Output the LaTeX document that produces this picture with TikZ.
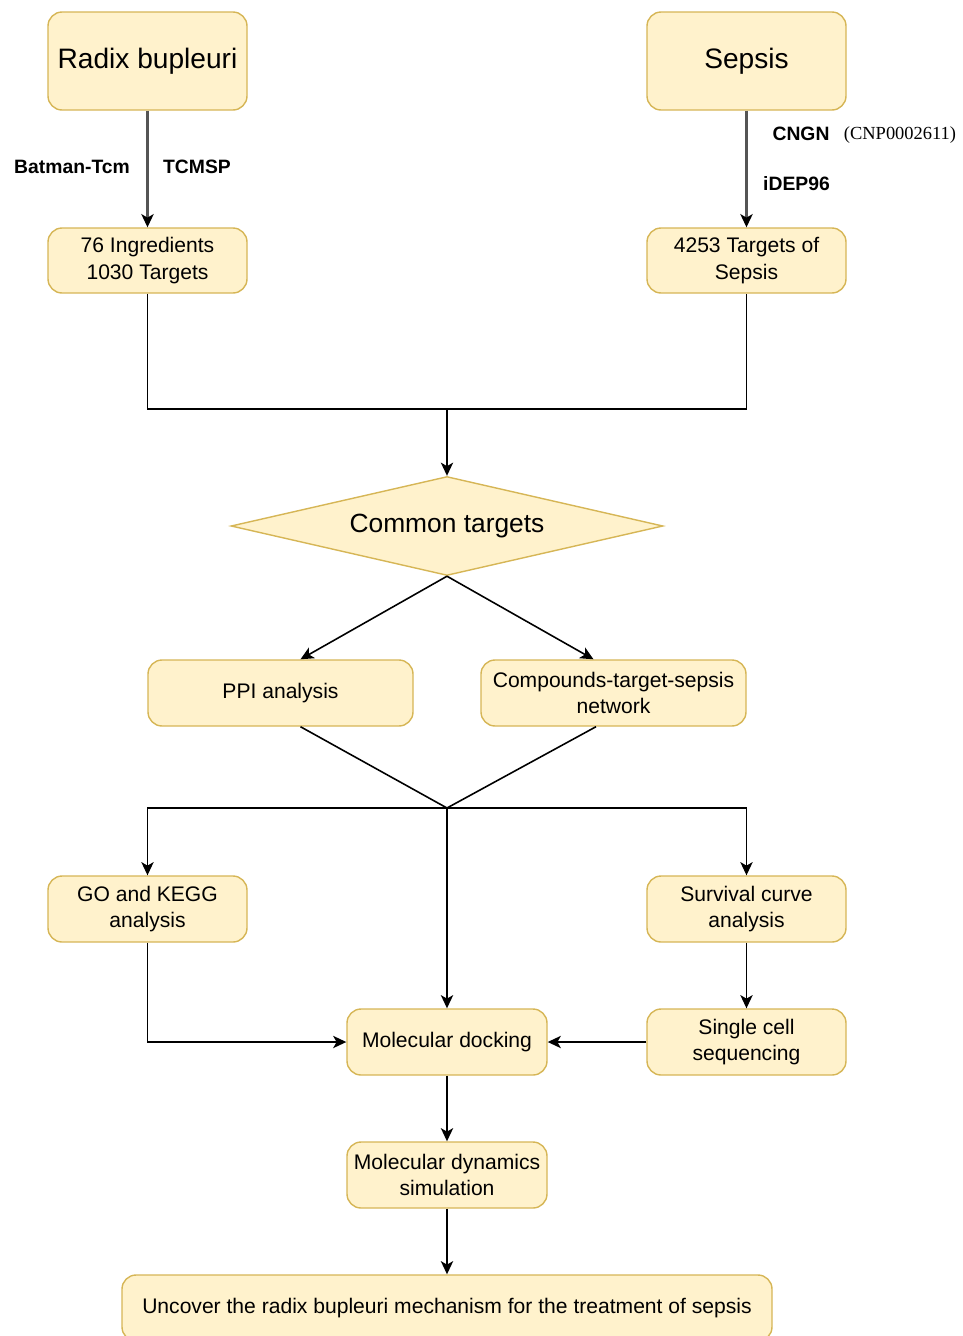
\documentclass[tikz,border=0pt]{standalone}
\usepackage{fontspec}
\setmainfont{Liberation Sans}
\newfontfamily\idfont{Liberation Serif}
\usetikzlibrary{arrows.meta,shapes.geometric,calc}
\definecolor{boxfill}{HTML}{FFF2CC}
\definecolor{boxline}{HTML}{D6B656}
\definecolor{topline}{HTML}{555555}

\begin{document}
\begin{tikzpicture}[line width=0.9pt,
	box/.style={draw=boxline,fill=boxfill,rounded corners=8pt,line width=0.8pt,align=center,
		minimum width=3.98cm,minimum height=1.32cm,inner sep=2pt,font=\fontsize{12}{15}\selectfont},
	bigbox/.style={box,minimum height=1.96cm,font=\fontsize{16}{19}\selectfont},
	lab/.style={font=\bfseries\fontsize{11}{13}\selectfont},
	arr/.style={-{Stealth[length=7.5pt,width=7pt,inset=2pt,color=black]}}]
		\useasboundingbox (0,0) rectangle (19.24,-26.72);
		% sources
		\node[bigbox] (radix) at (2.95,-1.22) {Radix bupleuri};
		\node[bigbox] (sepsis) at (14.93,-1.22) {Sepsis};
		\node[box,minimum height=1.3cm] (ingr) at (2.95,-5.21) {76 Ingredients\\1030 Targets};
		\node[box,minimum height=1.3cm] (stgt) at (14.93,-5.21) {4253 Targets of\\Sepsis};
		\draw[arr,draw=topline,line width=1.2pt] (radix) -- (ingr);
		\draw[arr,draw=topline,line width=1.2pt] (sepsis) -- (stgt);
		\node[lab] (batman) at (1.44,-3.34) {Batman-Tcm};
		\node[lab] (tcmsp) at (3.94,-3.34) {TCMSP};
		\node[lab] (cngn) at (16.02,-2.68) {CNGN};
		\node (cnp) at (18.0,-2.70) {\idfont\fontsize{10.5}{12}\selectfont(CNP0002611)};
		\node[lab] (idep) at (15.93,-3.68) {iDEP96};
		
		% common targets
		\node[draw=boxline,fill=boxfill,diamond,aspect=4.36,minimum width=8.64cm,minimum height=1.98cm,
			inner sep=0pt,line width=0.8pt,font=\fontsize{15}{18}\selectfont] (common) at (8.94,-10.52) {Common targets};
		\coordinate (m) at (8.94,-8.18);
		\draw (ingr.south) |- (m) -| (stgt.south);
		\draw[arr] (m) -- (common.north);
		
		\node[box,minimum width=5.3cm] (ppi) at (5.61,-13.86) {PPI analysis};
		\node[box,minimum width=5.3cm] (cts) at (12.27,-13.86) {Compounds-target-sepsis\\network};
		\draw[arr] (common.south) -- ([xshift=0.4cm]ppi.north);
		\draw[arr] (common.south) -- ([xshift=-0.4cm]cts.north);
		\coordinate (j) at (8.94,-16.16);
		\draw ([xshift=0.4cm]ppi.south) -- (j) -- ([xshift=-0.35cm]cts.south);
		
		% analyses
		\node[box] (go) at (2.95,-18.18) {GO and KEGG\\analysis};
		\node[box] (surv) at (14.93,-18.18) {Survival curve\\analysis};
		\node[box,minimum width=4cm] (dock) at (8.94,-20.84) {Molecular docking};
		\node[box] (cell) at (14.93,-20.84) {Single cell\\sequencing};
		\node[box,minimum width=4cm] (md) at (8.94,-23.5) {Molecular dynamics\\simulation};
		\node[box,minimum width=13cm] (final) at (8.94,-26.16) {Uncover the radix bupleuri mechanism for the treatment of sepsis};
		\draw[arr] (j) -| (go.north);
		\draw[arr] (j) -| (surv.north);
		\draw[arr] (j) -- (dock.north);
		\draw[arr] (go.south) |- (dock.west);
		\draw[arr] (cell.west) -- (dock.east);
		\draw[arr] (surv) -- (cell);
		\draw[arr] (dock) -- (md);
		\draw[arr] (md) -- (final);
\end{tikzpicture}
\end{document}
